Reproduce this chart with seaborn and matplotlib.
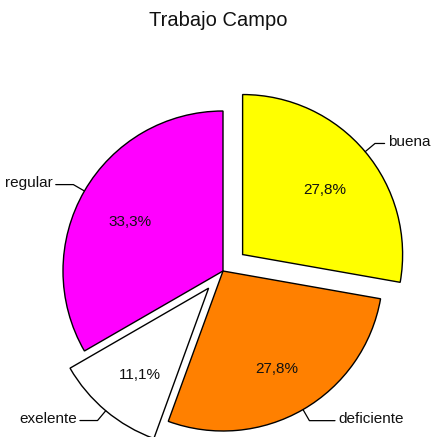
import numpy as np
import matplotlib
matplotlib.use("Agg")
import matplotlib.pyplot as plt
import seaborn as sns

# data
categories = ["buena", "deficiente", "exelente", "regular"]
values = [5, 5, 2, 6]
colors = ["#FFFF00", "#FF8000", "#FFFFFF", "#FF00FF"]
explode = [0.16, 0.0, 0.14, 0.0]
title = "Trabajo Campo"

sns.set_theme(style="white")
plt.rcParams["font.family"] = ["Liberation Sans", "DejaVu Sans"]

W = H = 437
fig = plt.figure(figsize=(W / 100, H / 100), dpi=100)
ax = fig.add_axes([0, 0, 1, 1])

def fmt(p):
    return f"{p:.1f}%".replace(".", ",")

wedges, texts, autotexts = ax.pie(
    values, colors=colors, explode=explode, startangle=90, counterclock=False,
    radius=1.0, autopct=fmt, pctdistance=0.67,
    wedgeprops=dict(edgecolor="black", linewidth=1.0),
    textprops=dict(fontsize=11, color="#111111"),
)
for t in autotexts:
    x, y = t.get_position()
    t.set_position((x, y - 0.03))

# leader-line labels
for w, lab in zip(wedges, categories):
    ang = np.deg2rad((w.theta1 + w.theta2) / 2)
    cx, cy = w.center
    ca, sa = np.cos(ang), np.sin(ang)
    p0 = (cx + 1.0 * ca, cy + 1.0 * sa)
    p1 = (cx + 1.08 * ca, cy + 1.08 * sa)
    side = 1 if ca >= 0 else -1
    if side > 0:
        hl = 0.16 if sa < 0 else 0.06
    else:
        hl = 0.11
    p2 = (p1[0] + side * hl, p1[1])
    ax.plot([p0[0], p1[0], p2[0]], [p0[1], p1[1], p2[1]], color="black", lw=0.9)
    ax.text(p2[0] + side * 0.02, p2[1] + 0.01, lab, ha="left" if side > 0 else "right",
            va="center", fontsize=11, color="#111111")

scale = 160.0
cxp, cyp = 223, 271
ax.set_xlim(-cxp / scale, (W - cxp) / scale)
ax.set_ylim(-(H - cyp) / scale, cyp / scale)
ax.set_aspect("auto")
ax.axis("off")

fig.text(0.499, 1 - 20 / H, title, ha="center", va="center", fontsize=14.5, color="#111111")

fig.savefig("out.png", dpi=100, facecolor="white")
